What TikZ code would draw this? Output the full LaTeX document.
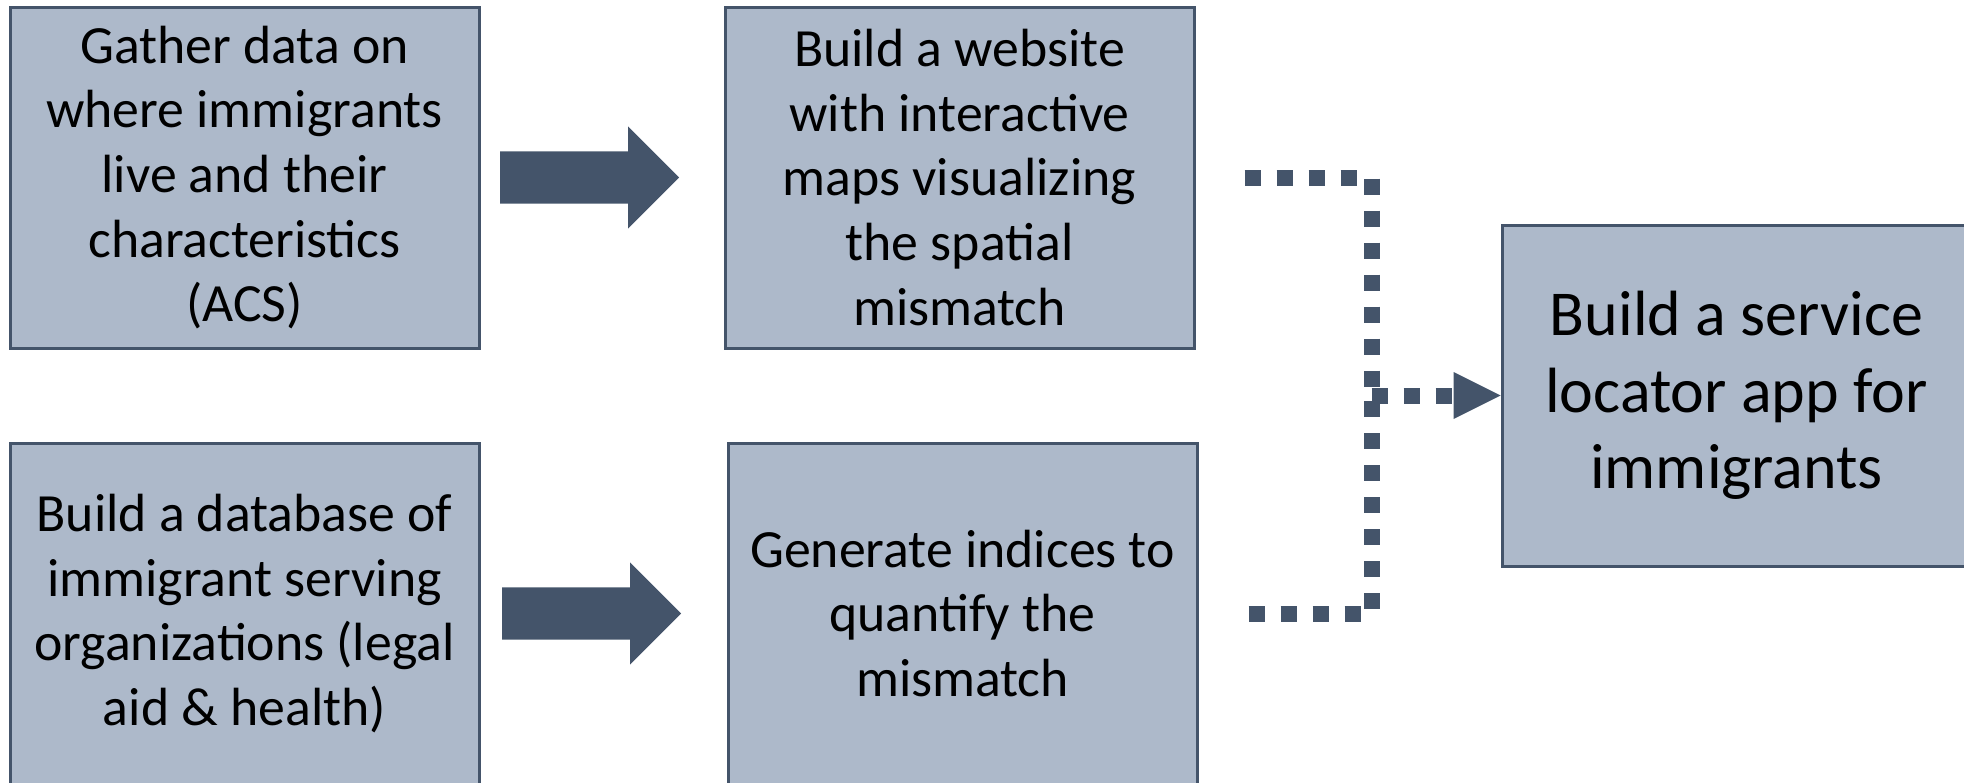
\documentclass[tikz,border=0pt]{standalone}
\usepackage{fontspec}
\setmainfont{Carlito}
\usetikzlibrary{shapes.arrows, arrows.meta, positioning}
\definecolor{boxFill}{RGB}{173,185,202}
\definecolor{slateBlue}{RGB}{68,84,106}
\tikzstyle{block} = [draw=slateBlue, fill=boxFill, rectangle, line width=0.03cm, minimum width=4.69cm, minimum height=3.41cm, align=center, font=\fontsize{15.3}{18.4}\selectfont]
\tikzstyle{bigarrow} = [single arrow, fill=slateBlue, inner xsep=0pt, inner ysep=0.255cm, minimum height=1.79cm, minimum width=1.01cm, single arrow head extend=0.25cm]
\tikzstyle{dots} = [draw=slateBlue, line width=0.16cm, dash pattern=on 0.16cm off 0.16cm]
\tikzstyle{dothead} = [-{Triangle[length=0.47cm, width=0.47cm, line width=0pt]}]

\begin{document}
\begin{tikzpicture}
        \clip (0,0) rectangle (19.64,-7.82);
        % We start by placing the blocks
        \node [block] (gather) at (2.445,-1.775) {Gather data on\\where immigrants\\live and their\\characteristics\\(ACS)};
        \node [block, right=2.43cm of gather] (website) {Build a website\\with interactive\\maps visualizing\\the spatial\\mismatch};
        \node [block, below=0.92cm of gather] (database) {Build a database of\\immigrant serving\\organizations (legal\\aid \& health)};
        \node [block, right=2.46cm of database] (indices) {Generate indices to\\quantify the\\mismatch};
        \node [block, font=\fontsize{18.2}{21.8}\selectfont] (app) at (17.365,-3.955) {Build a service\\locator app for\\immigrants};

        % the two thick arrows
        \node [bigarrow, right=0.19cm of gather] (arrowTop) {};
        \node [bigarrow, right=0.21cm of database] (arrowBottom) {};

        % dotted elbows into the app block
        \coordinate (junction) at ([xshift=-1.29cm]app.west);
        \draw [dots] ([xshift=0.49cm]website.east) -| (junction);
        \draw [dots] ([xshift=0.5cm]indices.east) -| (junction);
        \draw [dots, dothead] (junction) -- (app.west);
\end{tikzpicture}
\end{document}
